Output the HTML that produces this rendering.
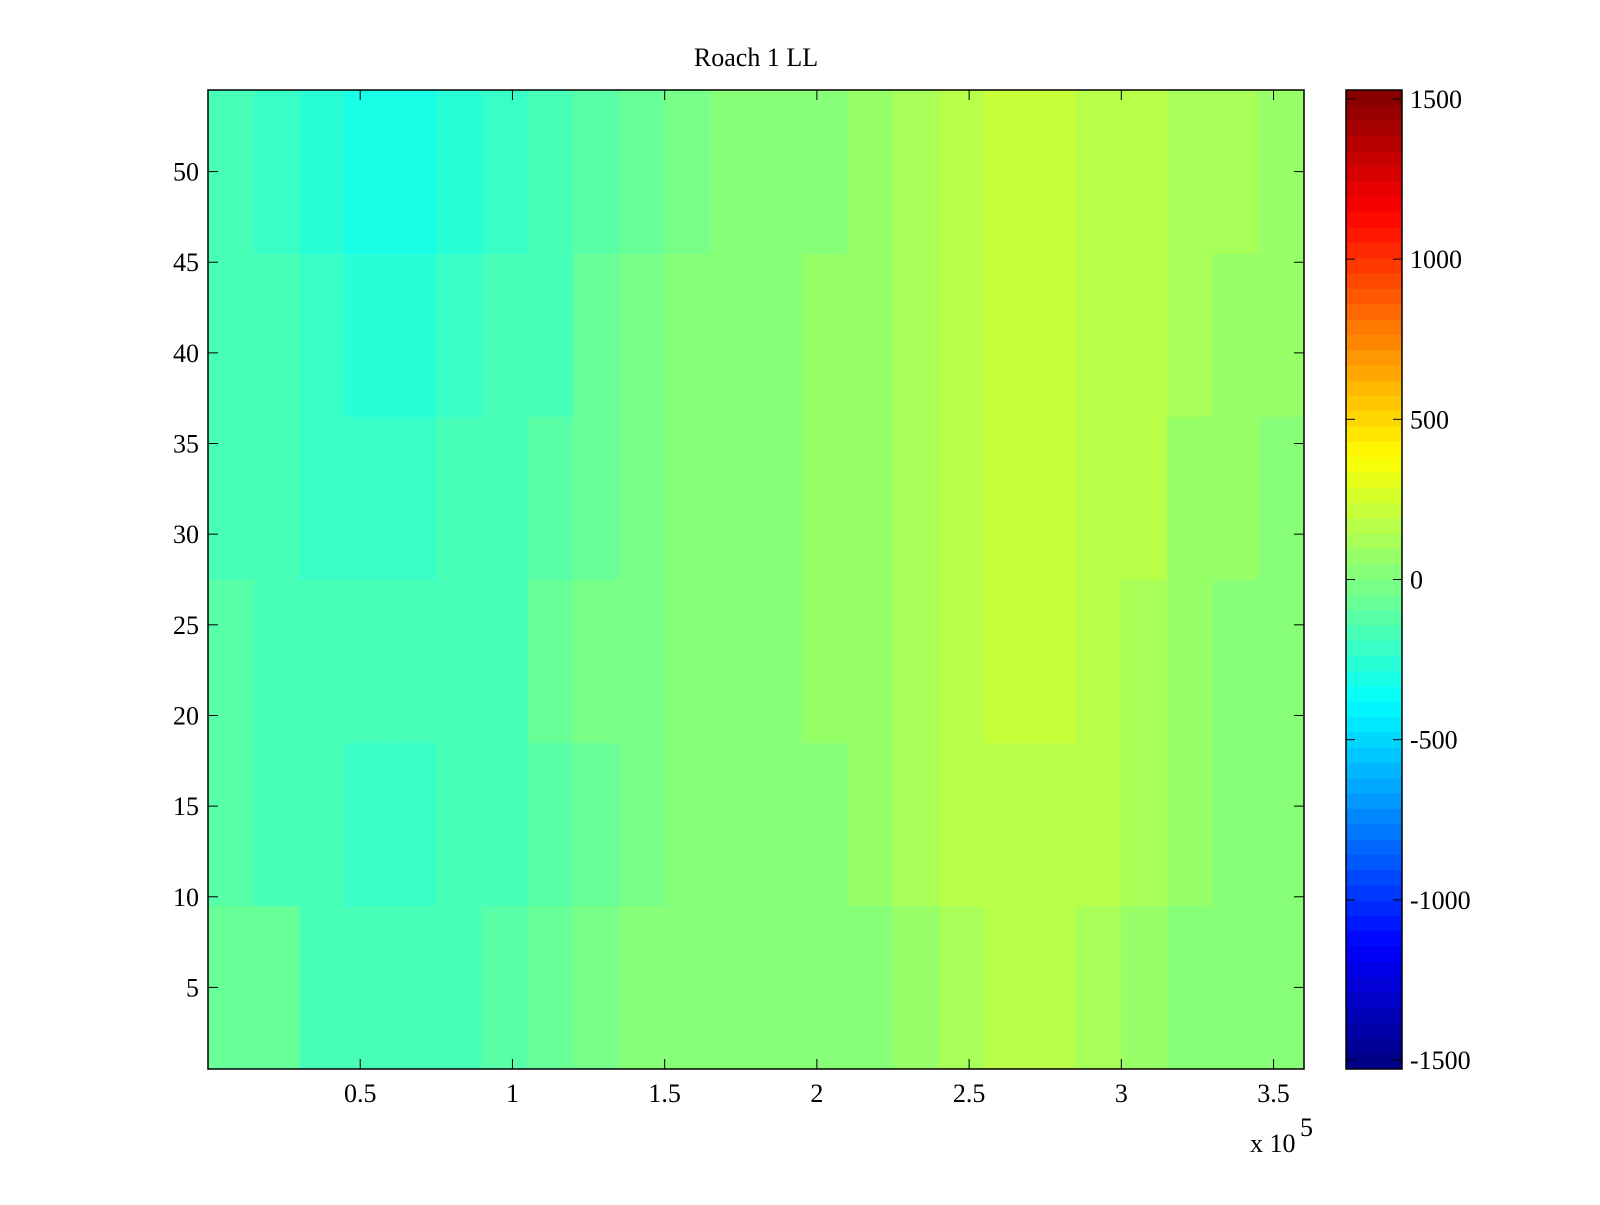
<!DOCTYPE html>
<html><head><meta charset="utf-8"><style>
body{margin:0;background:#fff;width:1600px;height:1200px;overflow:hidden}
svg text{font-family:"Liberation Serif",serif;font-size:26px;fill:#000}
</style></head><body>
<svg id="chart" width="1600" height="1200" xmlns="http://www.w3.org/2000/svg">
<text x="756" y="66" text-anchor="middle">Roach 1 LL</text>
<g id="cells"></g>
<g id="cbar"></g>
<g id="axes"></g>
</svg>
<script>
// x bins (units of 1e5), each spans 0.15
const xBinStarts=[0,0.15,0.3,0.45,0.6,0.75,0.9,1.05,1.2,1.35,1.5,1.65,1.8,1.95,2.1,2.25,2.4,2.55,2.7,2.85,3.0,3.15,3.3,3.45];
// row bands (first row, last row)
const rowBands=[[1,9],[10,18],[19,27],[28,36],[37,45],[46,54]];
const band1=[-50,-80,-150,-180,-180,-150,-110,-80,-40,0,30,40,40,40,40,70,110,150,150,110,70,40,40,40];
const band2=[-110,-150,-180,-220,-220,-180,-150,-110,-80,-40,0,30,40,40,70,110,150,180,180,150,110,70,40,40];
const band3=[-110,-150,-180,-180,-180,-180,-150,-80,-40,-40,0,40,40,70,70,110,180,220,220,180,110,70,40,40];
const band4=[-150,-180,-220,-220,-220,-180,-150,-110,-80,-40,0,40,40,70,70,110,180,220,220,180,150,70,70,40];
const band5=[-150,-180,-220,-260,-260,-220,-180,-150,-80,-40,0,40,40,70,70,110,180,220,220,180,150,110,70,70];
const band6=[-180,-220,-260,-300,-300,-260,-220,-180,-110,-80,-40,0,40,40,70,110,180,220,220,180,150,110,110,70];
const bands=[band1,band2,band3,band4,band5,band6];
const xTicks=[0.5,1,1.5,2,2.5,3,3.5];
const yTicks=[5,10,15,20,25,30,35,40,45,50];
const cTicks=[-1500,-1000,-500,0,500,1000,1500];

const L=208,R=1304,T=90,B=1069;
const xMax=3.6, yMin=0.5, yMax=54.5, cLim=1528;
const sx=v=>L+v/xMax*(R-L);
const sy=v=>B-(v-yMin)/(yMax-yMin)*(B-T);
const CB_L=1346,CB_R=1402;
const sc=v=>(T+B)/2 - v/cLim*(B-T)/2;
const NS="http://www.w3.org/2000/svg";
function mk(tag,attrs,parent){const e=document.createElementNS(NS,tag);for(const k in attrs)e.setAttribute(k,attrs[k]);parent.appendChild(e);return e;}
function jet(t){t=Math.max(0,Math.min(1,t));t=(Math.floor(t*64)+0.5)/64;
 const f=x=>Math.max(0,Math.min(1,x));
 const r=f(Math.min(4*t-1.5,-4*t+4.5)),g=f(Math.min(4*t-0.5,-4*t+3.5)),b=f(Math.min(4*t+0.5,-4*t+2.5));
 return `rgb(${Math.round(r*255)},${Math.round(g*255)},${Math.round(b*255)})`;}
const col=v=>jet((v+cLim)/(2*cLim));

const cells=document.getElementById('cells');
bands.forEach((vals,bi)=>{
 const [r0,r1]=rowBands[bi];
 vals.forEach((v,ci)=>{
  const x0=sx(xBinStarts[ci]),x1=sx(xBinStarts[ci]+0.15);
  const y0=sy(r1+0.5),y1=sy(r0-0.5);
  const el=mk('rect',{x:x0,y:y0,width:x1-x0+0.5,height:y1-y0+0.5,fill:col(v)},cells);
  
  
 });
});
const cb=document.getElementById('cbar');
for(let i=0;i<64;i++){
 const y0=T+(B-T)*i/64;
 const el=mk('rect',{x:CB_L,y:y0,width:CB_R-CB_L,height:(B-T)/64+0.5,fill:jet(1-(i+0.5)/64)},cb);
 
 
}
mk('rect',{x:CB_L,y:T,width:CB_R-CB_L,height:B-T,fill:'none',stroke:'#000','stroke-width':1.5},cb);
cTicks.forEach(v=>{const y=sc(v);
 mk('line',{x1:CB_L,x2:CB_L+9,y1:y,y2:y,stroke:'#000'},cb);
 mk('line',{x1:CB_R,x2:CB_R-9,y1:y,y2:y,stroke:'#000'},cb);
 const t=mk('text',{x:CB_R+8,y:y+9},cb);t.textContent=v;
 
 
});
const ax=document.getElementById('axes');
mk('rect',{x:L,y:T,width:R-L,height:B-T,fill:'none',stroke:'#000','stroke-width':1.5},ax);
xTicks.forEach(v=>{const x=sx(v);
 mk('line',{x1:x,x2:x,y1:B,y2:B-10,stroke:'#000'},ax);
 mk('line',{x1:x,x2:x,y1:T,y2:T+10,stroke:'#000'},ax);
 const t=mk('text',{x:x,y:B+33,'text-anchor':'middle'},ax);t.textContent=v;
 
 
});
yTicks.forEach(v=>{const y=sy(v);
 mk('line',{x1:L,x2:L+10,y1:y,y2:y,stroke:'#000'},ax);
 mk('line',{x1:R,x2:R-10,y1:y,y2:y,stroke:'#000'},ax);
 const t=mk('text',{x:199,y:y+9,'text-anchor':'end'},ax);t.textContent=v;
 
 
});
const ex=mk('text',{x:1250,y:1152},ax);ex.textContent='x 10';


const sup=mk('text',{x:1300,y:1136,'font-size':'16'},ax);sup.textContent='5';


</script>
</body></html>
